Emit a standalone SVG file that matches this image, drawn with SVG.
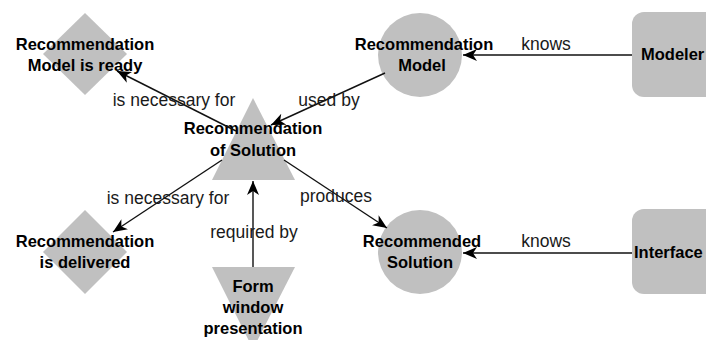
<svg xmlns="http://www.w3.org/2000/svg" width="706" height="340" viewBox="0 0 706 340">
<style>
.shape{fill:#c0c0c0;stroke:none}
.nl{font-family:"Liberation Sans",Arial,sans-serif;font-weight:bold;font-size:16.5px;fill:#000;text-anchor:middle}
.el{font-family:"Liberation Sans",Arial,sans-serif;font-size:17.5px;fill:#1a1a1a;text-anchor:middle}
.edge{stroke:#111;stroke-width:1.4;fill:none;marker-end:url(#arr)}
</style>
<defs>
<marker id="arr" markerUnits="userSpaceOnUse" markerWidth="16" markerHeight="12" refX="14" refY="6" orient="auto">
<path d="M0,0 L14,6 L0,12 L4,6 z" fill="#000"/>
</marker>
</defs>
<rect width="706" height="340" fill="#fff"/>

<g id="node-model-ready">
<polygon class="shape" points="85,13 127,54 85,95 43,54"/>
<text class="nl" x="85" y="50">Recommendation</text>
<text class="nl" x="85" y="71">Model is ready</text>
</g>
<g id="node-rec-model">
<circle class="shape" cx="420" cy="55" r="42"/>
<text class="nl" x="424" y="50">Recommendation</text>
<text class="nl" x="422" y="71">Model</text>
</g>
<g id="node-modeler">
<rect class="shape" x="632" y="12" width="90" height="85" rx="12"/>
<text class="nl" x="641" y="60" style="text-anchor:start">Modeler</text>
</g>
<g id="node-rec-solution">
<polygon class="shape" points="253,98 295,180 212,180"/>
<text class="nl" x="253" y="134">Recommendation</text>
<text class="nl" x="253" y="156">of Solution</text>
</g>
<g id="node-delivered">
<polygon class="shape" points="85,210 127,252 85,294 43,252"/>
<text class="nl" x="85" y="247">Recommendation</text>
<text class="nl" x="85" y="268">is delivered</text>
</g>
<g id="node-form">
<polygon class="shape" points="212,267 295,267 253,349"/>
<text class="nl" x="253" y="292">Form</text>
<text class="nl" x="253" y="313">window</text>
<text class="nl" x="253" y="334">presentation</text>
</g>
<g id="node-recommended">
<circle class="shape" cx="420" cy="252" r="42"/>
<text class="nl" x="422" y="247">Recommended</text>
<text class="nl" x="420" y="268">Solution</text>
</g>
<g id="node-interface">
<rect class="shape" x="632" y="209" width="90" height="85" rx="12"/>
<text class="nl" x="634" y="258" style="text-anchor:start">Interface</text>
</g>

<g id="connectors">
<line class="edge" x1="632" y1="55" x2="463" y2="55"/>
<line class="edge" x1="632" y1="253" x2="463" y2="253"/>
<line class="edge" x1="385" y1="73" x2="271" y2="125"/>
<line class="edge" x1="236" y1="131" x2="117" y2="71"/>
<line class="edge" x1="222" y1="160" x2="113" y2="232"/>
<line class="edge" x1="284" y1="160" x2="387" y2="228"/>
<line class="edge" x1="253" y1="267" x2="253" y2="181"/>
<text class="el" x="546" y="50">knows</text>
<text class="el" x="546" y="247">knows</text>
<text class="el" x="329" y="106">used by</text>
<text class="el" x="174" y="106">is necessary for</text>
<text class="el" x="168" y="204">is necessary for</text>
<text class="el" x="336" y="202">produces</text>
<text class="el" x="254" y="238">required by</text>
</g>
</svg>
